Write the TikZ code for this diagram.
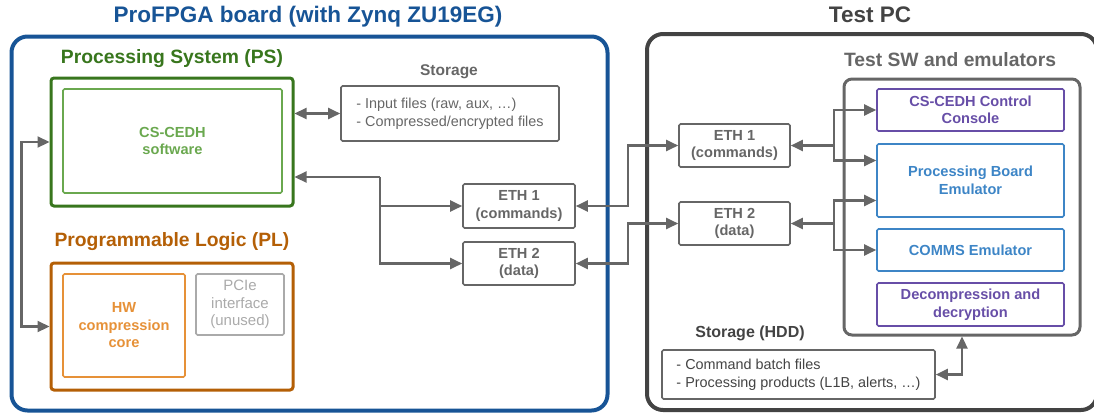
\documentclass[tikz,border=0pt]{standalone}
\usepackage{fontspec}
\setmainfont{Liberation Sans}
\usetikzlibrary{arrows.meta,calc}
\definecolor{boardblue}{RGB}{23,84,150}
\definecolor{psgreen}{RGB}{56,118,29}
\definecolor{swgreen}{RGB}{106,168,79}
\definecolor{plbrown}{RGB}{180,95,6}
\definecolor{hworange}{RGB}{230,145,56}
\definecolor{ctlpurple}{RGB}{103,78,167}
\definecolor{emublue}{RGB}{61,133,198}
\definecolor{pcgray}{RGB}{67,67,67}
\definecolor{midgray}{RGB}{102,102,102}
\definecolor{paleGray}{RGB}{170,170,170}
\tikzset{
  box/.style={draw=midgray, line width=1.6pt, rounded corners=1.5pt, align=center,
    text=midgray, font=\bfseries\fontsize{14.6}{17.5}\selectfont},
  group/.style={draw, rounded corners=3pt, line width=3pt},
  frame/.style={draw, rounded corners=16pt, line width=4pt},
  heading/.style={font=\bfseries\fontsize{19.3}{22}\selectfont},
  listtext/.style={font=\fontsize{14.4}{18}\selectfont, align=left},
  link/.style={draw=midgray, line width=2.2pt,
    {Triangle[length=12pt,width=11pt]}-{Triangle[length=12pt,width=11pt]}},
  feed/.style={draw=midgray, line width=2.2pt, -{Triangle[length=12pt,width=11pt]}},
}
\begin{document}
\begin{tikzpicture}[x=1pt,y=-1pt]
\useasboundingbox (0,0) rectangle (1094,416);
% board side
\node[frame, draw=boardblue, minimum width=596pt, minimum height=374pt] (board) at (309.5,223.5) {};
\node[heading, text=boardblue, font=\bfseries\fontsize{22.5}{25}\selectfont] (boardtitle) at (308,17) {ProFPGA board (with Zynq ZU19EG)};
\node[heading, text=psgreen] (pstitle) at (172,59) {Processing System (PS)};
\node[group, draw=psgreen, minimum width=242pt, minimum height=128pt] (ps) at (172,142) {};
\node[box, draw=swgreen, text=swgreen, minimum width=219pt, minimum height=104pt] (sw) at (172.5,141) {CS-CEDH\\software};
\node[heading, text=plbrown] (pltitle) at (172,242) {Programmable Logic (PL)};
\node[group, draw=plbrown, minimum width=242pt, minimum height=127pt] (pl) at (172,326.5) {};
\node[box, draw=hworange, text=hworange, minimum width=122pt, minimum height=103pt] (hw) at (124,325.5) {HW\\compression\\core};
\node[box, draw=paleGray, text=paleGray, font=\fontsize{15}{17.5}\selectfont, minimum width=88pt, minimum height=61pt] (pcie) at (240,304.5) {PCIe\\interface\\(unused)};
\node[heading, text=midgray, font=\bfseries\fontsize{15.5}{18}\selectfont] (storetitle) at (449,72) {Storage};
\node[box, listtext, text=midgray, minimum width=218pt, minimum height=55pt] (store) at (450,113.5) {- Input files (raw, aux, …)\\- Compressed/encrypted files};
\node[box, minimum width=112pt, minimum height=44pt] (eth1b) at (519,206) {ETH 1\\(commands)};
\node[box, minimum width=112pt, minimum height=43pt] (eth2b) at (519,263.5) {ETH 2\\(data)};
% test PC side
\node[frame, draw=pcgray, minimum width=450pt, minimum height=376pt] (pc) at (872,222) {};
\node[heading, text=pcgray, font=\bfseries\fontsize{22.5}{25}\selectfont] (pctitle) at (870,15) {Test PC};
\node[heading, text=midgray] (testswtitle) at (950,60) {Test SW and emulators};
\node[group, draw=midgray, rounded corners=8pt, minimum width=236pt, minimum height=256pt] (testsw) at (962,207) {};
\node[box, draw=ctlpurple, text=ctlpurple, minimum width=187pt, minimum height=42pt] (console) at (970.5,110) {CS-CEDH Control\\Console};
\node[box, draw=emublue, text=emublue, minimum width=187pt, minimum height=73pt] (pbe) at (970.5,180.5) {Processing Board\\Emulator};
\node[box, draw=emublue, text=emublue, minimum width=187pt, minimum height=42pt] (comms) at (970.5,250) {COMMS Emulator};
\node[box, draw=ctlpurple, text=ctlpurple, minimum width=187pt, minimum height=43pt] (decomp) at (970.5,304.5) {Decompression and\\decryption};
\node[box, minimum width=111pt, minimum height=43pt] (eth1p) at (734.5,145.5) {ETH 1\\(commands)};
\node[box, minimum width=111pt, minimum height=43pt] (eth2p) at (734.5,223.5) {ETH 2\\(data)};
\node[heading, text=pcgray, font=\bfseries\fontsize{16}{19}\selectfont] (hddtitle) at (750,333) {Storage (HDD)};
\node[box, listtext, text=pcgray, minimum width=273pt, minimum height=49pt] (hdd) at (798.5,374.5) {- Command batch files\\- Processing products (L1B, alerts, …)};
% connectors
\draw[link] (ps.west) -- ++(-28,0) |- (pl.west);
\draw[link] (ps.east |- store.west) -- (store.west);
\coordinate (jb) at (380,177);
\draw[feed] (jb) -- (jb -| ps.east);
\draw[feed] (jb) |- (eth1b.west);
\draw[feed] (jb) |- (eth2b.west);
\draw[link] (eth1b.east) -- ++(52,0) |- (eth1p.west);
\draw[link] (eth2b.east) -- ++(52,0) |- (eth2p.west);
\coordinate (jp1) at ($(eth1p.east)+(43,0)$);
\coordinate (jp2) at ($(eth2p.east)+(43,0)$);
\draw[feed] (jp1) -- (eth1p.east);
\draw[feed] (jp1) |- (console.west);
\draw[feed] (jp1) |- ([yshift=20pt]pbe.west);
\draw[feed] (jp2) -- (eth2p.east);
\draw[feed] (jp2) |- ([yshift=-20pt]pbe.west);
\draw[feed] (jp2) |- (comms.west);
\draw[link] (hdd.east) -| (testsw.south);
\end{tikzpicture}
\end{document}
